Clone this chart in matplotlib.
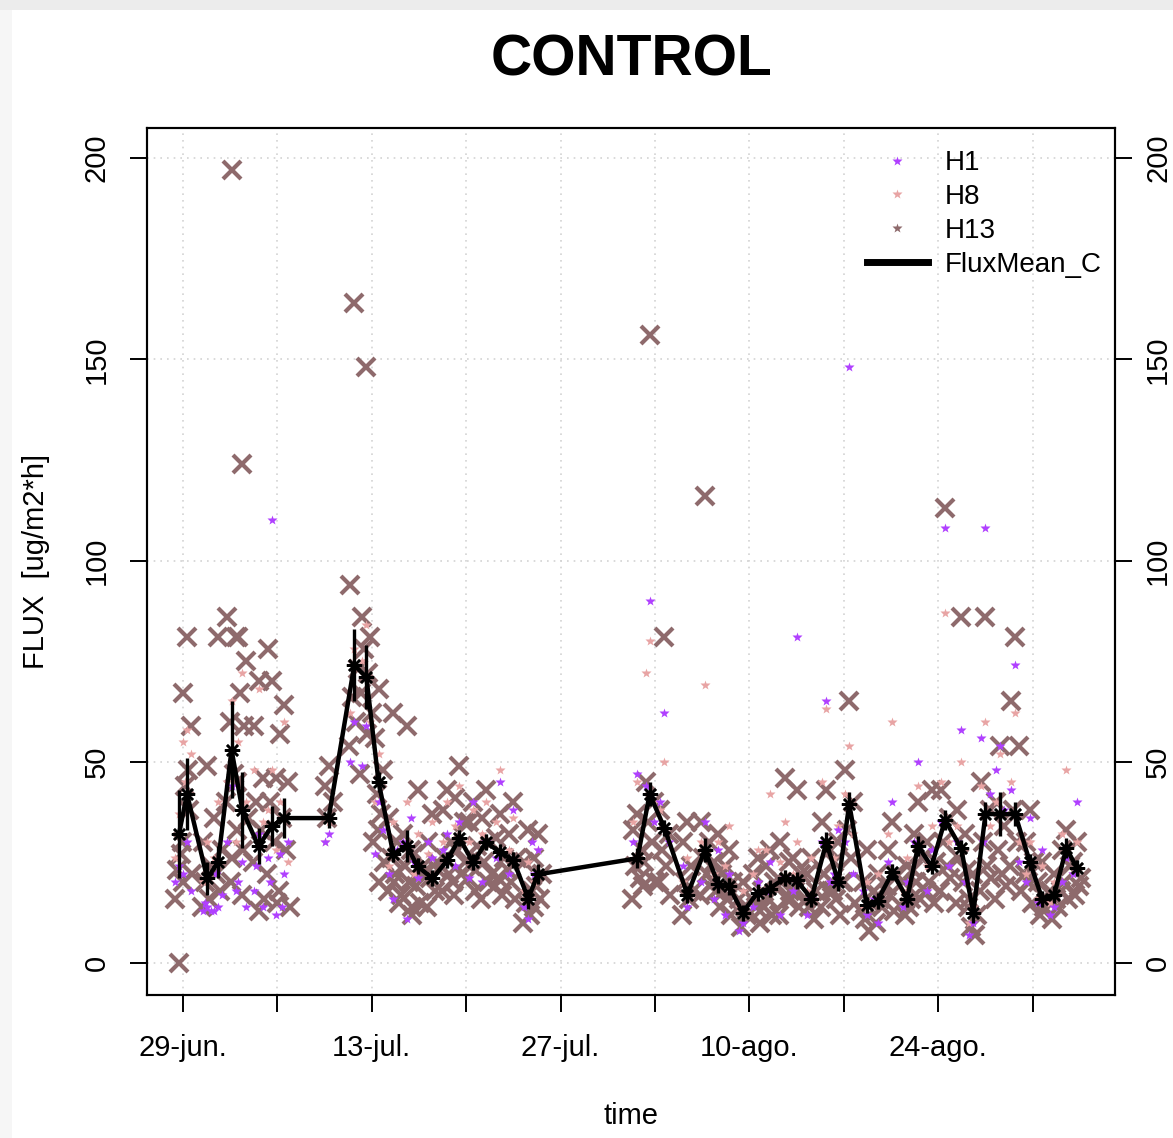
import matplotlib.pyplot as plt
from matplotlib.lines import Line2D
from matplotlib.patches import Rectangle

plt.rcParams['font.family'] = ['Liberation Sans', 'DejaVu Sans']

# días de muestreo (desde el 29-jun)
days = [-0.3, 0.3, 1.8, 2.6, 3.6, 4.4, 5.6, 6.6, 7.5, 10.8,
        12.7, 13.6, 14.5, 15.6, 16.6, 17.4, 18.5, 19.6, 20.5, 21.5,
        22.5, 23.5, 24.5, 25.6, 26.3, 33.7, 34.6, 35.7, 37.4, 38.7,
        39.7, 40.5, 41.5, 42.6, 43.5, 44.6, 45.5, 46.6, 47.7, 48.6,
        49.4, 50.7, 51.5, 52.6, 53.7, 54.5, 55.5, 56.5, 57.7, 58.6,
        59.5, 60.6, 61.7, 62.8, 63.7, 64.6, 65.5, 66.3]

# flujos por día, cámara H13
h13_flux = [
    [0, 16, 20, 23, 27], [81, 67, 59, 44, 38, 30, 22, 48], [49, 30, 24, 20, 16, 14],
    [81, 36, 28, 22, 18], [197, 86, 81, 60, 47, 40, 33, 26, 20],
    [124, 81, 75, 67, 59, 45, 36, 28, 17], [70, 59, 46, 40, 33, 25, 16, 13],
    [70, 78, 46, 40, 30, 22, 15], [64, 57, 45, 36, 28, 18, 14], [49, 44, 40, 36],
    [164, 94, 73, 66, 60, 54, 47], [148, 86, 81, 78, 72, 67, 62, 57],
    [68, 56, 48, 42, 37, 30, 25, 20, 33], [62, 36, 30, 26, 22, 18, 15, 20],
    [59, 32, 28, 24, 20, 17, 14], [43, 27, 22, 19, 15, 12, 24], [37, 30, 25, 21, 18, 14, 23],
    [43, 38, 30, 26, 22, 18, 20], [49, 41, 35, 28, 22, 17, 25], [40, 35, 29, 24, 18, 21],
    [43, 36, 30, 25, 20, 16, 22], [37, 31, 26, 21, 17, 19], [40, 32, 26, 20, 16, 23],
    [33, 25, 18, 15, 12, 10, 14], [32, 26, 22, 19, 16], [37, 33, 28, 24, 21, 16, 19],
    [156, 45, 40, 35, 30, 25, 20], [81, 38, 32, 28, 24, 20, 17], [35, 30, 24, 20, 16, 12, 18],
    [116, 35, 30, 26, 22, 17, 19], [32, 25, 22, 18, 14, 20], [28, 24, 20, 16, 12, 18],
    [20, 16, 12, 9, 14], [26, 22, 18, 14, 10, 16], [28, 24, 20, 16, 12, 14],
    [46, 30, 25, 20, 16, 12, 18], [43, 26, 22, 18, 14, 16], [26, 22, 18, 14, 11, 16],
    [43, 35, 28, 22, 18, 14, 20], [30, 25, 20, 16, 12, 18], [65, 48, 40, 33, 26, 20, 15],
    [28, 20, 15, 11, 8, 13], [22, 18, 14, 10, 16], [35, 28, 22, 17, 13, 19], [24, 20, 16, 12, 14],
    [40, 32, 26, 20, 16, 23], [43, 30, 25, 20, 15, 18], [113, 43, 36, 30, 24, 18, 21],
    [86, 38, 32, 26, 20, 15, 23], [22, 16, 12, 9, 7, 14], [86, 45, 38, 30, 24, 18, 21],
    [54, 40, 34, 28, 22, 16, 19], [81, 65, 54, 38, 30, 24, 18], [38, 30, 25, 20, 15, 22],
    [25, 20, 16, 12, 14], [22, 18, 14, 11, 16], [33, 28, 24, 20, 16, 18], [30, 25, 21, 17, 19],
]

# cámara H1
h1_flux = [
    [24, 20], [30, 22, 18], [14, 13, 13, 15], [14, 13, 17, 22], [44, 30, 18],
    [25, 20, 14], [32, 18, 14, 24], [110, 26, 12, 20], [22, 27, 30, 14], [32, 30],
    [60, 50], [59, 49], [40, 27, 33], [16, 22, 28], [11, 30, 36], [21, 25],
    [26, 30], [32, 28], [35, 24], [40, 21], [30, 20], [45, 26], [38, 22],
    [11, 14, 30], [28, 22], [47, 30], [90, 44, 35], [62, 40, 30], [14, 24],
    [35, 20], [28, 16], [22, 12], [10, 8], [20, 14], [25, 18], [21, 12],
    [81, 18], [16, 12], [65, 30, 20], [33, 22], [148, 30, 22], [12, 18],
    [10, 16], [40, 25], [20, 14], [50, 30], [28, 18], [108, 35, 24],
    [58, 30, 20], [10, 7], [108, 56, 42, 30], [54, 48, 38], [74, 43, 25],
    [36, 20], [28, 15], [14, 12], [26, 20], [40, 22],
]

# cámara H8
h8_flux = [
    [37, 26], [58, 55, 52, 45], [30, 20], [40, 26], [65, 45, 30], [72, 55, 40],
    [68, 48, 35], [48, 38, 28], [60, 40, 25], [35, 30], [78, 62], [84, 75, 60],
    [52, 40], [35, 24], [40, 30], [32, 22], [35, 27], [40, 30], [44, 34],
    [38, 30], [40, 32], [48, 35], [36, 28], [25, 18], [28, 20], [45, 35],
    [80, 72, 40], [50, 38], [26, 20], [69, 30], [30, 22], [34, 24], [18, 14],
    [28, 22], [42, 28], [35, 25], [30, 22], [26, 18], [63, 45, 30], [34, 26],
    [54, 42, 32], [20, 14], [22, 16], [60, 32], [26, 18], [44, 30], [34, 24],
    [87, 45, 30], [50, 34], [14, 10], [60, 44, 34], [52, 40], [62, 45, 30],
    [30, 22], [24, 16], [20, 15], [48, 32], [30, 22],
]

# media diaria y desviación
mean_flux = [32, 42, 21, 25, 53, 38, 29, 34, 36, 36,
             74, 71, 45, 27, 29, 24, 21, 25.5, 31, 25,
             30, 27.5, 25.5, 16, 22, 26, 42, 33.5, 17, 28,
             19.5, 19, 12.5, 17.5, 18.5, 21, 20.5, 16, 30, 20,
             39.5, 14.5, 15.5, 22.5, 16, 29, 24, 35.5, 28.5, 12.5,
             37, 37, 37, 25, 16, 17, 28.5, 23.5]
mean_sd = [11, 9, 4, 4, 12, 9.5, 4.5, 5, 5, 2.5,
           9, 8, 2.5, 2, 4, 2, 2, 2, 2, 2,
           2, 2, 2, 2.5, 2.5, 2.5, 3, 2, 2, 3,
           2, 2, 2, 2, 2, 2, 2, 2, 2.5, 2,
           3, 2, 2, 2, 2, 2.5, 2, 2.5, 2, 2.5,
           3, 5.5, 3, 2, 2, 2, 2.5, 2]

week_ticks = [0, 7, 14, 21, 28, 35, 42, 49, 56, 63]
week_labels = ['29-jun.', '', '13-jul.', '', '27-jul.', '', '10-ago.', '', '24-ago.', '']
y_ticks = [0, 50, 100, 150, 200]

# hora de cada muestra dentro del día (fracción de día)
slot_offsets = [0.0, -0.3, 0.3, -0.15, 0.15, -0.4, 0.4, 0.05, -0.05]

c_h1 = '#B040FF'
c_h8 = '#E8A4A4'
c_h13 = '#8E6A6C'


def spread(vals_per_day):
    t, v = [], []
    for d, vals in zip(days, vals_per_day):
        for k, val in enumerate(vals):
            t.append(d + slot_offsets[k])
            v.append(val)
    return t, v


fig = plt.figure(figsize=(11.73, 11.38), dpi=100)
fig.add_artist(Rectangle((0, 0.991), 1, 0.009, transform=fig.transFigure,
                         color='#ececec', lw=0))
fig.add_artist(Rectangle((0, 0), 0.010, 0.991, transform=fig.transFigure,
                         color='#f6f6f6', lw=0))

ax = fig.add_axes([0.1253, 0.1257, 0.8252, 0.7619])

for x in week_ticks:
    ax.axvline(x, color='#d3d3d3', lw=1.2, ls=(0, (1, 3)), zorder=0)
for y in y_ticks:
    ax.axhline(y, color='#d3d3d3', lw=1.2, ls=(0, (1, 3)), zorder=0)

t13, v13 = spread(h13_flux)
t8, v8 = spread(h8_flux)
t1, v1 = spread(h1_flux)
ax.plot(t13, v13, ls='none', marker='x', ms=12.5, mew=3, color=c_h13, zorder=2)
ax.plot(t8, v8, ls='none', marker='*', ms=7.5, color=c_h8, mec='none', zorder=3)
ax.plot(t1, v1, ls='none', marker='*', ms=7.5, color=c_h1, mec='none', zorder=3)

ax.errorbar(days, mean_flux, yerr=mean_sd, fmt='none', ecolor='black',
            elinewidth=2.4, capsize=0, zorder=4)
ax.plot(days, mean_flux, color='black', lw=3.2, marker=(8, 2, 0), ms=11,
        mew=1.8, zorder=5)

ax.set_xlim(-2.67, 69.1)
ax.set_ylim(-7.95, 207.5)
ax.set_xticks(week_ticks)
ax.set_xticklabels(week_labels)
ax.set_yticks(y_ticks)
ax.set_yticklabels([str(y) for y in y_ticks], rotation=90, va='center')
ax.tick_params(axis='x', length=12, width=1.4, labelsize=21, pad=16)
ax.tick_params(axis='y', length=12, width=1.4, labelsize=21, pad=14)
for s in ax.spines.values():
    s.set_linewidth(1.5)

# eje derecho con las mismas marcas
ax2 = ax.twinx()
ax2.set_ylim(ax.get_ylim())
ax2.set_yticks(y_ticks)
ax2.set_yticklabels([str(y) for y in y_ticks], rotation=90, va='center')
ax2.tick_params(axis='y', length=12, width=1.4, labelsize=21, pad=9)
for s in ax2.spines.values():
    s.set_linewidth(1.5)

ax.set_xlabel('time', fontsize=21)
ax.xaxis.set_label_coords(0.5, -0.123)
ax.set_ylabel('FLUX  [ug/m2*h]', fontsize=21)
ax.yaxis.set_label_coords(-0.1, 0.5)

fig.text(0.538, 1 - 60 / 1138, 'CONTROL', ha='center', va='center',
         fontsize=41, fontweight='bold')

handles = [
    Line2D([], [], ls='none', marker='*', ms=7.5, color=c_h1, mec='none'),
    Line2D([], [], ls='none', marker='*', ms=7.5, color=c_h8, mec='none'),
    Line2D([], [], ls='none', marker='*', ms=7.5, color=c_h13, mec='none'),
    Line2D([], [], color='black', lw=5),
]
ax2.legend(handles, ['H1', 'H8', 'H13', 'FluxMean_C'], loc='upper right',
           bbox_to_anchor=(1.012, 1.003), frameon=False, fontsize=20,
           handlelength=2.2, labelspacing=0.28, handletextpad=0.6)

fig.savefig('out.png', dpi=100)
